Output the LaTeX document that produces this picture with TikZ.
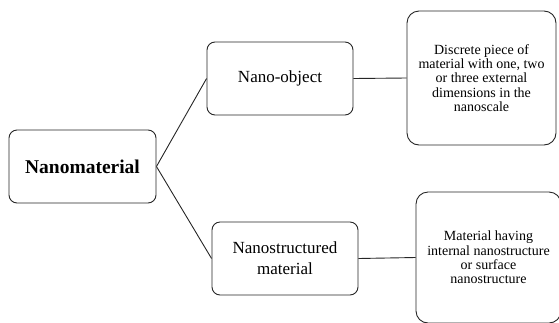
\documentclass[tikz,border=0pt]{standalone}
\usepackage{fontspec}
\setmainfont{Liberation Serif}
\begin{document}
\begin{tikzpicture}[x=1pt,y=-1pt,
  box/.style={draw=black!85, line width=0.9pt, rounded corners=#1, align=center, inner sep=0pt},
  link/.style={draw=black!85, line width=0.9pt}]
\useasboundingbox (0,0) rectangle (559,322);
\clip (0,0) rectangle (559,322);
\node[box=8pt, minimum width=147pt, minimum height=73pt, font=\fontsize{19.5}{22}\selectfont\bfseries] (nm) at (82.5,166.5) {Nanomaterial};
\node[box=8pt, minimum width=146pt, minimum height=73pt, font=\fontsize{17}{20}\selectfont] (no) at (280,78.5) {Nano-object};
\node[box=8pt, minimum width=146pt, minimum height=73pt, font=\fontsize{17}{21}\selectfont] (ns) at (285,258.5) {Nanostructured\\material};
\node[box=12pt, minimum width=149pt, minimum height=134pt, font=\fontsize{14}{14.3}\selectfont] (tr) at (481.5,78) {Discrete piece of\\material with one, two\\or three external\\dimensions in the\\nanoscale};
\node[box=12pt, minimum width=145pt, minimum height=131pt, font=\fontsize{14}{14.3}\selectfont] (br) at (488.5,257.5) {Material having\\internal nanostructure\\or surface\\nanostructure};
\draw[link] (nm.east) -- (no.west);
\draw[link] (nm.east) -- (ns.west);
\draw[link] (no.east) -- (tr.west);
\draw[link] (ns.east) -- (br.west);
\end{tikzpicture}
\end{document}
